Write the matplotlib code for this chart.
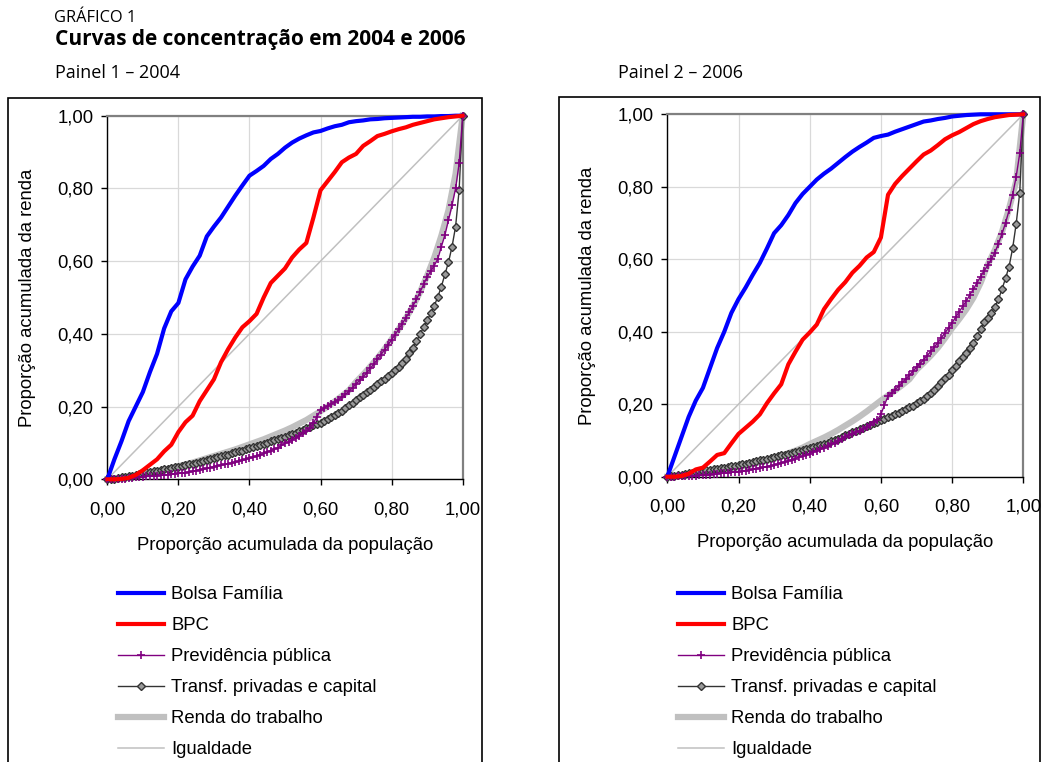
import matplotlib
matplotlib.use("Agg")
import matplotlib.pyplot as plt
from matplotlib.patches import Rectangle
import numpy as np

# ---------------- data ----------------
x_line = [round(i * 0.02, 2) for i in range(51)]
x_mark = [round(i * 0.01, 2) for i in range(101)]
x_eq = [0.0, 1.0]
y_eq = [0.0, 1.0]

tick_vals = [0.0, 0.2, 0.4, 0.6, 0.8, 1.0]
tick_labels = ["0,00", "0,20", "0,40", "0,60", "0,80", "1,00"]

series_labels = ["Bolsa Família", "BPC", "Previdência pública",
                 "Transf. privadas e capital", "Renda do trabalho", "Igualdade"]

# ---- 2004 ----
bolsa_2004 = [0.000, 0.055, 0.105, 0.160, 0.200, 0.240, 0.295, 0.345, 0.415, 0.462,
              0.485, 0.550, 0.585, 0.615, 0.668, 0.695, 0.720, 0.750, 0.780, 0.808,
              0.835, 0.848, 0.862, 0.881, 0.895, 0.912, 0.926, 0.937, 0.946, 0.954,
              0.958, 0.965, 0.971, 0.975, 0.982, 0.985, 0.987, 0.990, 0.991, 0.993,
              0.994, 0.995, 0.996, 0.997, 0.997, 0.998, 0.998, 0.999, 0.999, 1.000,
              1.000]
bpc_2004 = [0.000, 0.000, 0.001, 0.004, 0.012, 0.025, 0.040, 0.055, 0.077, 0.095,
            0.130, 0.157, 0.175, 0.215, 0.245, 0.275, 0.322, 0.358, 0.390, 0.418,
            0.435, 0.455, 0.500, 0.540, 0.560, 0.580, 0.610, 0.632, 0.650, 0.720,
            0.795, 0.820, 0.845, 0.872, 0.885, 0.895, 0.917, 0.930, 0.944, 0.950,
            0.957, 0.963, 0.968, 0.975, 0.980, 0.985, 0.990, 0.993, 0.996, 0.998,
            1.000]
trab_2004 = [0.000, 0.001, 0.003, 0.006, 0.009, 0.013, 0.017, 0.021, 0.026, 0.031,
             0.036, 0.041, 0.046, 0.052, 0.058, 0.064, 0.070, 0.076, 0.082, 0.089,
             0.096, 0.103, 0.110, 0.118, 0.126, 0.134, 0.143, 0.153, 0.163, 0.175,
             0.187, 0.200, 0.214, 0.229, 0.245, 0.268, 0.288, 0.310, 0.333, 0.358,
             0.385, 0.413, 0.443, 0.476, 0.515, 0.560, 0.610, 0.670, 0.740, 0.840,
             1.000]
prev_2004 = [0.000, 0.000, 0.001, 0.001, 0.002, 0.002, 0.003, 0.004, 0.005, 0.006,
             0.007, 0.008, 0.008, 0.009, 0.010, 0.011, 0.012, 0.013, 0.014, 0.015,
             0.016, 0.017, 0.018, 0.020, 0.022, 0.024, 0.026, 0.028, 0.030, 0.032,
             0.035, 0.037, 0.039, 0.041, 0.043, 0.045, 0.047, 0.050, 0.052, 0.055,
             0.058, 0.061, 0.064, 0.067, 0.071, 0.075, 0.079, 0.083, 0.087, 0.093,
             0.099, 0.103, 0.108, 0.113, 0.119, 0.126, 0.133, 0.141, 0.155, 0.172,
             0.190, 0.196, 0.202, 0.207, 0.213, 0.219, 0.226, 0.234, 0.242, 0.252,
             0.262, 0.272, 0.282, 0.293, 0.305, 0.317, 0.330, 0.343, 0.356, 0.370,
             0.384, 0.398, 0.413, 0.428, 0.444, 0.460, 0.477, 0.495, 0.515, 0.536,
             0.557, 0.572, 0.588, 0.606, 0.640, 0.672, 0.713, 0.754, 0.800, 0.869,
             1.000]
transf_2004 = [0.000, 0.001, 0.002, 0.004, 0.005, 0.007, 0.008, 0.010, 0.012, 0.015,
               0.018, 0.019, 0.020, 0.022, 0.023, 0.025, 0.027, 0.029, 0.031, 0.033,
               0.035, 0.037, 0.039, 0.041, 0.043, 0.045, 0.047, 0.050, 0.053, 0.055,
               0.058, 0.061, 0.063, 0.066, 0.068, 0.071, 0.074, 0.077, 0.079, 0.082,
               0.085, 0.088, 0.091, 0.094, 0.097, 0.100, 0.104, 0.107, 0.110, 0.113,
               0.117, 0.121, 0.124, 0.128, 0.132, 0.136, 0.140, 0.144, 0.148, 0.152,
               0.156, 0.161, 0.166, 0.171, 0.177, 0.183, 0.189, 0.196, 0.203, 0.210,
               0.218, 0.225, 0.232, 0.239, 0.246, 0.253, 0.261, 0.269, 0.277, 0.284,
               0.291, 0.300, 0.310, 0.320, 0.332, 0.346, 0.362, 0.380, 0.399, 0.418,
               0.438, 0.456, 0.477, 0.502, 0.530, 0.564, 0.597, 0.640, 0.695, 0.796,
               1.000]

# ---- 2006 ----
bolsa_2006 = [0.000, 0.055, 0.110, 0.165, 0.210, 0.245, 0.300, 0.355, 0.400, 0.452,
              0.490, 0.522, 0.557, 0.590, 0.630, 0.672, 0.694, 0.722, 0.755, 0.780,
              0.800, 0.820, 0.836, 0.850, 0.866, 0.882, 0.897, 0.910, 0.922, 0.935,
              0.940, 0.944, 0.952, 0.959, 0.966, 0.973, 0.980, 0.983, 0.987, 0.990,
              0.994, 0.996, 0.998, 0.999, 1.000, 1.000, 1.000, 1.000, 1.000, 1.000,
              1.000]
bpc_2006 = [0.000, 0.000, 0.002, 0.008, 0.020, 0.025, 0.042, 0.060, 0.065, 0.092,
            0.118, 0.135, 0.152, 0.172, 0.203, 0.230, 0.255, 0.310, 0.345, 0.378,
            0.398, 0.420, 0.462, 0.490, 0.516, 0.537, 0.563, 0.582, 0.605, 0.620,
            0.660, 0.778, 0.808, 0.830, 0.850, 0.870, 0.889, 0.900, 0.915, 0.931,
            0.942, 0.951, 0.962, 0.973, 0.981, 0.987, 0.992, 0.995, 0.998, 0.999,
            1.000]
trab_2006 = [0.000, 0.001, 0.002, 0.004, 0.007, 0.010, 0.013, 0.016, 0.019, 0.022,
             0.026, 0.030, 0.035, 0.040, 0.046, 0.052, 0.058, 0.065, 0.072, 0.080,
             0.090, 0.099, 0.108, 0.118, 0.129, 0.141, 0.153, 0.166, 0.180, 0.195,
             0.210, 0.224, 0.238, 0.253, 0.269, 0.295, 0.314, 0.334, 0.356, 0.382,
             0.410, 0.435, 0.462, 0.494, 0.535, 0.585, 0.625, 0.675, 0.740, 0.815,
             1.000]
prev_2006 = [0.000, 0.000, 0.000, 0.001, 0.001, 0.002, 0.002, 0.003, 0.003, 0.004,
             0.005, 0.006, 0.006, 0.007, 0.008, 0.009, 0.010, 0.011, 0.012, 0.013,
             0.014, 0.015, 0.016, 0.018, 0.020, 0.022, 0.024, 0.026, 0.028, 0.030,
             0.032, 0.035, 0.038, 0.041, 0.044, 0.047, 0.050, 0.054, 0.057, 0.060,
             0.064, 0.068, 0.072, 0.076, 0.080, 0.084, 0.089, 0.094, 0.099, 0.104,
             0.110, 0.114, 0.118, 0.122, 0.127, 0.132, 0.138, 0.144, 0.150, 0.157,
             0.172, 0.198, 0.222, 0.231, 0.240, 0.250, 0.260, 0.270, 0.280, 0.291,
             0.302, 0.312, 0.323, 0.334, 0.346, 0.358, 0.370, 0.384, 0.397, 0.411,
             0.425, 0.440, 0.455, 0.470, 0.485, 0.502, 0.518, 0.535, 0.552, 0.568,
             0.583, 0.600, 0.618, 0.643, 0.670, 0.700, 0.735, 0.778, 0.828, 0.892,
             1.000]
transf_2006 = [0.000, 0.001, 0.002, 0.004, 0.005, 0.007, 0.009, 0.011, 0.013, 0.015,
               0.017, 0.018, 0.019, 0.021, 0.022, 0.024, 0.025, 0.027, 0.029, 0.030,
               0.032, 0.034, 0.036, 0.038, 0.040, 0.042, 0.045, 0.047, 0.050, 0.052,
               0.055, 0.057, 0.059, 0.061, 0.064, 0.066, 0.068, 0.071, 0.073, 0.076,
               0.078, 0.081, 0.084, 0.087, 0.091, 0.094, 0.098, 0.101, 0.105, 0.110,
               0.115, 0.119, 0.123, 0.127, 0.131, 0.135, 0.139, 0.143, 0.147, 0.152,
               0.156, 0.160, 0.164, 0.168, 0.172, 0.176, 0.181, 0.186, 0.191, 0.196,
               0.202, 0.208, 0.215, 0.222, 0.230, 0.239, 0.249, 0.260, 0.271, 0.282,
               0.294, 0.306, 0.318, 0.331, 0.342, 0.354, 0.370, 0.388, 0.407, 0.428,
               0.438, 0.452, 0.469, 0.489, 0.517, 0.547, 0.580, 0.630, 0.698, 0.784,
               1.000]

# ---------------- figure ----------------
W, H = 1044, 762
fig = plt.figure(figsize=(W / 100, H / 100), dpi=100)
fig.patch.set_facecolor("white")

CHART_FONT = ["Liberation Sans", "DejaVu Sans"]
HEAD_FONT = ["Open Sans", "DejaVu Sans"]
FS = 13.3


def fx(px):
    return px / W


def fy(py):
    return 1 - py / H


# header texts
fig.text(fx(54), fy(22), "GRÁFICO 1", family=HEAD_FONT, fontsize=11.8, va="baseline")
fig.text(fx(55), fy(45), "Curvas de concentração em 2004 e 2006", family=HEAD_FONT,
         fontsize=15, fontweight="bold", va="baseline")
fig.text(fx(55), fy(78), "Painel 1 – 2004", family=HEAD_FONT, fontsize=13, va="baseline")
fig.text(fx(618), fy(78), "Painel 2 – 2006", family=HEAD_FONT, fontsize=13, va="baseline")

# panel boxes
for (l, r, t) in [(8, 482, 98), (559, 1040, 97)]:
    fig.add_artist(Rectangle((fx(l), -0.02), fx(r) - fx(l), fy(t) + 0.02,
                             transform=fig.transFigure, fill=False,
                             ec="black", lw=1.2))

panels = [
    dict(rect=(107.3, 115.7, 462.7, 479.3), bolsa=bolsa_2004, bpc=bpc_2004,
         prev=prev_2004, transf=transf_2004, trab=trab_2004, leg=(118, 586)),
    dict(rect=(667.3, 114.3, 1023.3, 476.7), bolsa=bolsa_2006, bpc=bpc_2006,
         prev=prev_2006, transf=transf_2006, trab=trab_2006, leg=(678, 586)),
]

for p in panels:
    l, t, r, b = p["rect"]
    ax = fig.add_axes([fx(l), fy(b), fx(r) - fx(l), (b - t) / H])
    ax.set_xlim(0, 1)
    ax.set_ylim(0, 1)

    h_bolsa, = ax.plot(x_line, p["bolsa"], color="#0000FF", lw=3, zorder=5,
                       clip_on=False, solid_joinstyle="round")
    h_bpc, = ax.plot(x_line, p["bpc"], color="#FF0000", lw=3, zorder=5,
                     clip_on=False, solid_joinstyle="round")
    h_trab, = ax.plot(x_line, p["trab"], color="#C0C0C0", lw=4.5, zorder=2,
                      clip_on=False)
    h_prev, = ax.plot(x_mark, p["prev"], color="#800080", lw=1, marker="+",
                      markersize=6, mew=1.2, zorder=4, clip_on=False)
    h_transf, = ax.plot(x_mark, p["transf"], color="#333333", lw=1, marker="D",
                        markersize=3.6, mew=1, mec="#333333", mfc="#999999",
                        zorder=3, clip_on=False)
    h_eq, = ax.plot(x_eq, y_eq, color="#C0C0C0", lw=1.1, zorder=1.5)

    ax.set_xticks(tick_vals)
    ax.set_xticklabels(tick_labels)
    ax.set_yticks(tick_vals)
    ax.set_yticklabels(tick_labels)
    ax.grid(True, color="#d9d9d9", lw=0.9, zorder=0)
    ax.set_axisbelow(True)
    ax.tick_params(direction="out", length=4, width=1, color="black",
                   labelsize=FS, pad=12)
    ax.tick_params(axis="y", pad=6)
    for lab in ax.get_xticklabels() + ax.get_yticklabels():
        lab.set_family(CHART_FONT)
    for s in ["left", "bottom"]:
        ax.spines[s].set_color("black")
        ax.spines[s].set_linewidth(1)
    for s in ["top", "right"]:
        ax.spines[s].set_color("#808080")
        ax.spines[s].set_linewidth(1.6)

    ax.set_xlabel("Proporção acumulada da população", family=CHART_FONT,
                  fontsize=FS, labelpad=13)
    ax.set_ylabel("Proporção acumulada da renda", family=CHART_FONT,
                  fontsize=FS, labelpad=15)

    lx, ly = p["leg"]
    ax.legend([h_bolsa, h_bpc, h_prev, h_transf, h_trab, h_eq], series_labels,
              loc="upper left", bbox_to_anchor=(fx(lx), fy(ly)),
              bbox_transform=fig.transFigure, frameon=False,
              prop=dict(family=CHART_FONT, size=FS), handlelength=2.5,
              handletextpad=0.38, labelspacing=0.76, borderpad=0,
              borderaxespad=0, numpoints=1)

fig.savefig("out.png", dpi=100, facecolor="white")
